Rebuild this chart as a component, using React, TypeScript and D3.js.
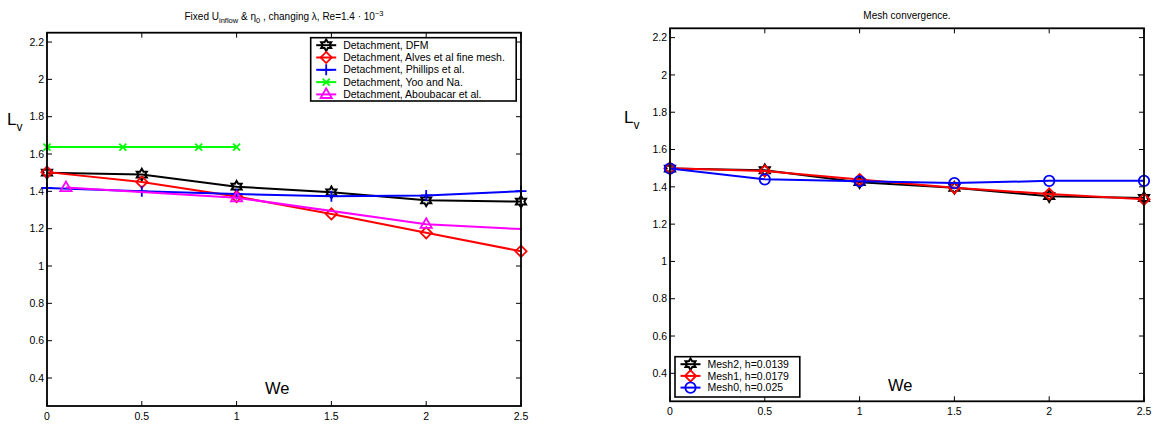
import React from 'react';
import * as d3 from 'd3';

// Weissenberg numbers and L_v values
const weValues = [0, 0.5, 1, 1.5, 2, 2.5];
const xTicks = [0, 0.5, 1, 1.5, 2, 2.5];
const yTicks = [0.4, 0.6, 0.8, 1, 1.2, 1.4, 1.6, 1.8, 2, 2.2];

const dfmValues = [1.5, 1.49, 1.425, 1.395, 1.352, 1.345];
const alvesValues = [1.503, 1.45, 1.372, 1.279, 1.178, 1.079];
const phillipsValues = [1.418, 1.4, 1.386, 1.374, 1.378, 1.401];
const yooWe = [0, 0.4, 0.8, 1.0];
const yooValues = [1.637, 1.637, 1.637, 1.637];
const aboubacarWe = [0.1, 1, 2, 2.5];
const aboubacarValues = [1.42, 1.366, 1.224, 1.198];
const aboubacarMarked = [true, true, true, false];

const mesh2Values = [1.498, 1.489, 1.425, 1.395, 1.35, 1.34];
const mesh1Values = [1.5, 1.485, 1.439, 1.395, 1.362, 1.333];
const mesh0Values = [1.498, 1.44, 1.43, 1.42, 1.432, 1.432];

const FONT = "'Liberation Sans', Arial, Helvetica, sans-serif";

type Marker = 'hexagram' | 'diamond' | 'plus' | 'cross' | 'triangle' | 'circle';

interface Series {
  label: string;
  color: string;
  marker: Marker;
  x: number[];
  y: number[];
  marked?: boolean[];
}

const hexagramPath = (R: number) => {
  const r = R / Math.sqrt(3);
  const pts: [number, number][] = d3.range(12).map(i => {
    const a = (i * Math.PI) / 6 - Math.PI / 2;
    const rad = i % 2 === 0 ? R : r;
    return [rad * Math.cos(a), rad * Math.sin(a)];
  });
  return 'M' + pts.map(p => p.join(',')).join('L') + 'Z';
};

const MarkerGlyph = ({ type, x, y, color }: { type: Marker; x: number; y: number; color: string }) => {
  const common = { fill: 'none', stroke: color, strokeWidth: 1.8 };
  const t = `translate(${x},${y})`;
  switch (type) {
    case 'hexagram':
      return <path transform={t} d={hexagramPath(5.8)} {...common} strokeWidth={2} />;
    case 'diamond':
      return <path transform={t} d="M0,-5.6L5.6,0L0,5.6L-5.6,0Z" {...common} />;
    case 'plus':
      return <path transform={t} d="M-5.5,0H5.5M0,-5.5V5.5" {...common} />;
    case 'cross':
      return <path transform={t} d="M-3.5,-3.5L3.5,3.5M-3.5,3.5L3.5,-3.5" {...common} />;
    case 'triangle':
      return <path transform={t} d="M0,-6L5.6,3.6L-5.6,3.6Z" {...common} />;
    case 'circle':
      return <circle transform={t} r={5.2} {...common} />;
  }
};

interface PanelProps {
  left: number;
  top: number;
  width: number;
  height: number;
  title: React.ReactNode;
  titleY: number;
  series: Series[];
  legend: { x: number; y: number; w: number; h: number; rowStep: number };
  lvX: number;
  lvY: number;
  weX: number;
  weY: number;
}

const Panel = ({ left, top, width, height, title, titleY, series, legend, lvX, lvY, weX, weY }: PanelProps) => {
  const x = d3.scaleLinear().domain([0, 2.5]).range([left, left + width]);
  const y = d3.scaleLinear().domain([0.25, 2.25]).range([top + height, top]);
  const line = d3.line<[number, number]>().x(d => x(d[0])).y(d => y(d[1]));
  const tl = 5;
  const bottom = top + height;
  const right = left + width;

  return (
    <g fontFamily={FONT}>
      <text x={left + width / 2} y={titleY} textAnchor="middle" fontSize={10} fill="#000">
        {title}
      </text>
      {/* ticks, inward on all four sides */}
      {xTicks.map(t => (
        <g key={'x' + t}>
          <line x1={x(t)} x2={x(t)} y1={bottom} y2={bottom - tl} stroke="#000" />
          <line x1={x(t)} x2={x(t)} y1={top} y2={top + tl} stroke="#000" />
          <text x={x(t)} y={bottom + 14} textAnchor="middle" fontSize={10.5} fill="#000">
            {d3.format('~g')(t)}
          </text>
        </g>
      ))}
      {yTicks.map(t => (
        <g key={'y' + t}>
          <line x1={left} x2={left + tl} y1={y(t)} y2={y(t)} stroke="#000" />
          <line x1={right} x2={right - tl} y1={y(t)} y2={y(t)} stroke="#000" />
          <text x={left - 3} y={y(t)} dy="0.35em" textAnchor="end" fontSize={10.5} fill="#000">
            {d3.format('~g')(t)}
          </text>
        </g>
      ))}
      {/* data */}
      {series.map(s => {
        const pts = s.x.map((v, i) => [v, s.y[i]] as [number, number]);
        return (
          <g key={s.label}>
            <path d={line(pts) ?? ''} fill="none" stroke={s.color} strokeWidth={2} />
            {pts.map((p, i) =>
              s.marked && !s.marked[i] ? null : (
                <MarkerGlyph key={i} type={s.marker} x={x(p[0])} y={y(p[1])} color={s.color} />
              )
            )}
          </g>
        );
      })}
      <rect x={left} y={top} width={width} height={height} fill="none" stroke="#000" strokeWidth={1.8} />
      {/* axis labels */}
      <text x={lvX} y={lvY} fontSize={17} fill="#000">
        L<tspan fontSize={12} dy={6}>v</tspan>
      </text>
      <text x={weX} y={weY} fontSize={16.5} fill="#000">We</text>
      {/* legend */}
      <rect x={legend.x} y={legend.y} width={legend.w} height={legend.h} fill="#fff" stroke="#000" strokeWidth={1.6} />
      {series.map((s, i) => {
        const cy = legend.y + 7.5 + i * legend.rowStep;
        const cx = legend.x + 15.5;
        return (
          <g key={'lg' + s.label}>
            <line x1={cx - 10} x2={cx + 10} y1={cy} y2={cy} stroke={s.color} strokeWidth={2} />
            <MarkerGlyph type={s.marker} x={cx} y={cy} color={s.color} />
            <text x={cx + 17} y={cy} dy="0.35em" fontSize={10.5} fill="#000">{s.label}</text>
          </g>
        );
      })}
    </g>
  );
};

const leftSeries: Series[] = [
  { label: 'Detachment, DFM', color: '#000000', marker: 'hexagram', x: weValues, y: dfmValues },
  { label: 'Detachment, Alves et al fine mesh.', color: '#ff0000', marker: 'diamond', x: weValues, y: alvesValues },
  { label: 'Detachment, Phillips et al.', color: '#0000ff', marker: 'plus', x: weValues, y: phillipsValues },
  { label: 'Detachment, Yoo and Na.', color: '#00ff00', marker: 'cross', x: yooWe, y: yooValues },
  { label: 'Detachment, Aboubacar et al.', color: '#ff00ff', marker: 'triangle', x: aboubacarWe, y: aboubacarValues, marked: aboubacarMarked },
];

const rightSeries: Series[] = [
  { label: 'Mesh2, h=0.0139', color: '#000000', marker: 'hexagram', x: weValues, y: mesh2Values },
  { label: 'Mesh1, h=0.0179', color: '#ff0000', marker: 'diamond', x: weValues, y: mesh1Values },
  { label: 'Mesh0, h=0.025', color: '#0000ff', marker: 'circle', x: weValues, y: mesh0Values },
];

const leftTitle = (
  <>
    Fixed U<tspan fontSize={7.5} dy={3}>inflow</tspan>
    <tspan dy={-3}> &amp; η</tspan>
    <tspan fontSize={7.5} dy={3}>0</tspan>
    <tspan dy={-3}> , changing λ, Re=1.4 · 10</tspan>
    <tspan fontSize={7.5} dy={-4}>−3</tspan>
  </>
);

export default function App() {
  return (
    <svg width={1153} height={426} style={{ position: 'absolute', left: 0, top: 0, background: '#fff' }}>
      <Panel
        left={47}
        top={32.7}
        width={474}
        height={373.3}
        title={leftTitle}
        titleY={20}
        series={leftSeries}
        legend={{ x: 310.7, y: 37.7, w: 205.5, h: 63.3, rowStep: 12.3 }}
        lvX={7}
        lvY={125}
        weX={265}
        weY={394}
      />
      <Panel
        left={670}
        top={28.3}
        width={474}
        height={373}
        title="Mesh convergence."
        titleY={18.5}
        series={rightSeries}
        legend={{ x: 675, y: 356.7, w: 124.8, h: 40.3, rowStep: 11.7 }}
        lvX={624}
        lvY={123}
        weX={888}
        weY={391}
      />
    </svg>
  );
}
